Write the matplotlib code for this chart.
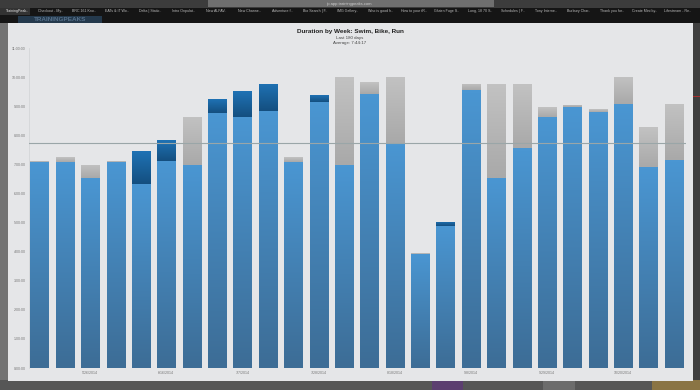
import matplotlib
matplotlib.use("Agg")
import matplotlib.pyplot as plt
import numpy as np
from matplotlib.colors import LinearSegmentedColormap
from matplotlib.patches import Rectangle

# hours per week
base_hours = [7.07, 7.07, 6.52, 7.07, 6.32, 7.11, 6.97, 8.76, 8.63, 8.84, 7.07, 9.13,
              6.97, 9.41, 7.73, 3.93, 4.88, 9.55, 6.52, 7.56, 8.63, 8.97, 8.80, 9.07, 6.90, 7.14]
upper_hours = [0.03, 0.17, 0.45, 0.03, 1.13, 0.72, 1.65, 0.48, 0.89, 0.93, 0.17, 0.24,
               3.02, 0.41, 2.27, 0.03, 0.14, 0.21, 3.23, 2.20, 0.34, 0.07, 0.10, 0.93, 1.37, 1.93]
upper_kind = ["g", "g", "g", "g", "d", "d", "g", "d", "d", "d", "g", "d", "g",
              "g", "g", "g", "d", "g", "g", "g", "g", "g", "g", "g", "g", "g"]
average_hours = 7.74
y_ticks = list(range(0, 12))
y_labels = ["0:00:00", "1:00:00", "2:00:00", "3:00:00", "4:00:00", "5:00:00",
            "6:00:00", "7:00:00", "8:00:00", "9:00:00", "10:00:00", "11:00:00"]
x_ticks = [2, 5, 8, 11, 14, 17, 20, 23]
x_labels = ["5/26/2014", "6/16/2014", "7/7/2014", "7/28/2014",
            "8/18/2014", "9/8/2014", "9/29/2014", "10/20/2014"]
tabs_left = ["TrainingPeak..", "Checkout - My..", "BRC 161 Kno..", "EATs & IT Wo..", "Delta | Static..",
             "Intro Onpulat..", "New ALFAV..", "New Channe..", "Adventure f..", "Bio Search | F..",
             "IMG Gallery..", "Who is good h..", "How to your tR..", "Gluten Fuge S..", "Long, 18 70 S..",
             "Schedules | F..", "Tony Interne..", "Burbury Char..", "Thank you for..", "Create Mini by..",
             "Lifestream - Re.."]

W, H = 700, 390
plt.rcParams["font.family"] = ["Liberation Sans", "DejaVu Sans"]
fig = plt.figure(figsize=(W / 100, H / 100), dpi=100, facecolor="#5f5f5f")

def px(x0, y0, x1, y1, color, z=0):
    fig.add_artist(Rectangle((x0 / W, 1 - y1 / H), (x1 - x0) / W, (y1 - y0) / H,
                             transform=fig.transFigure, fc=color, ec="none", zorder=z))

def ftext(x, y, s, **kw):
    fig.text(x / W, 1 - y / H, s, va="center", **kw)

# surrounding browser window
px(0, 0, W, 8, "#3c3c3c")
px(208, 0, 494, 7, "#6f6f6f")
px(0, 8, W, 23, "#151515")
px(0, 8, 30, 15, "#333333")
px(18, 16, 102, 23, "#24394c")
px(0, 23, 8, H, "#737373")
px(693, 23, W, H, "#3f3f3f")
px(0, 380, W, H, "#565656")
px(432, 380, 463, H, "#5c3f70")
px(543, 380, 575, H, "#6c6c6c")
px(652, 380, W, H, "#8a7444")
px(693, 96, W, 97, "#a83030")
ftext(60, 19.3, "TRAININGPEAKS", fontsize=4.6, color="#56708a", ha="center", fontweight="bold", zorder=2)
ftext(350, 3.5, "tp.app.trainingpeaks.com", fontsize=3, color="#cccccc", ha="center", zorder=2)
for i, tab in enumerate(tabs_left):
    ftext(18 + i * 33.0, 10.7, tab, fontsize=2.6,
          color="#bbbbbb" if i else "#eeeeee", ha="center", zorder=2)
px(8, 23, 693, 381, "#e5e6e8", 1)

ax = fig.add_axes([29 / W, 1 - 368 / H, (686 - 29) / W, (368 - 48) / H], zorder=3)
ax.patch.set_alpha(0)

def cmap(top, bottom):
    return LinearSegmentedColormap.from_list("g", [top, bottom])

grads = {"b": cmap("#4a96d2", "#3d6d96"),
         "g": cmap("#c2c2c2", "#a9a9a9"),
         "d": cmap("#1f72b4", "#144f80")}
grad = np.linspace(0, 1, 64).reshape(-1, 1)
xs = np.arange(len(base_hours))
width = 0.71

def segments(bottoms, heights, kinds):
    bars = ax.bar(xs, heights, width, bottom=bottoms, color="#4a88b8",
                  edgecolor="#aebfcd", linewidth=0.4, zorder=2)
    for bar, kind in zip(bars, kinds):
        x0, y0, w, h = bar.get_x(), bar.get_y(), bar.get_width(), bar.get_height()
        im = ax.imshow(grad, cmap=grads[kind], extent=(x0, x0 + w, y0, y0 + h),
                       aspect="auto", zorder=2.5, interpolation="bilinear")
        im.set_clip_path(bar)

segments(np.zeros(len(base_hours)), base_hours, ["b"] * len(base_hours))
segments(base_hours, upper_hours, upper_kind)

ax.axhline(average_hours, color="#9aa6a8", lw=0.8, zorder=4)
ax.set_xlim(-0.41, 25.48)
ax.set_ylim(0, 11)
ax.set_yticks(y_ticks, y_labels)
ax.set_xticks(x_ticks, x_labels)
ax.tick_params(axis="both", length=0, labelsize=2.6, labelcolor="#777777", pad=2.2)
for name, sp in ax.spines.items():
    sp.set_visible(name == "left")
ax.spines["left"].set_color("#d4d6d8")
ax.spines["left"].set_linewidth(0.6)

ftext(350, 31.3, "Duration by Week: Swim, Bike, Run", fontsize=4.6, fontweight="bold",
      color="#222222", ha="center", zorder=5)
ftext(350, 37.5, "Last 180 days", fontsize=3.2, color="#444444", ha="center", zorder=5)
ftext(350, 42.7, "Average: 7:44:17", fontsize=3.2, color="#444444", ha="center", zorder=5)

fig.savefig("out.png", dpi=100, facecolor=fig.get_facecolor())
